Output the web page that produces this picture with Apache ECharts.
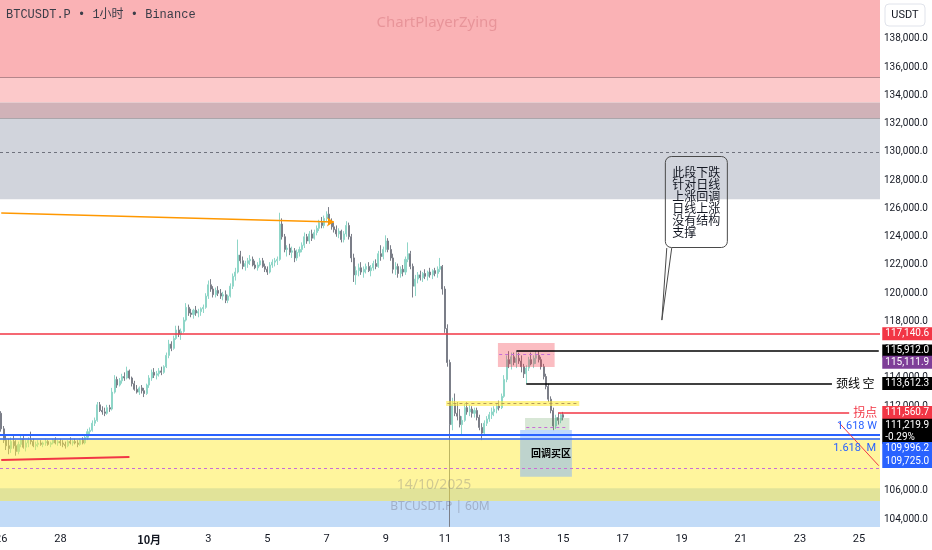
<!DOCTYPE html>
<html><head><meta charset="utf-8">
<script src="https://cdn.jsdelivr.net/npm/echarts@6/dist/echarts.min.js"></script>
<style>html,body{margin:0;padding:0;background:#fff}#c{width:932px;height:550px}</style>
</head><body><div id="c"></div>
<script>
// ---------- axis / categories (2-hour slots from 26 Sep 2025) ----------
const startDate = Date.UTC(2025, 8, 26);
const slotHours = 2;
const slotCount = 357;
const categories = [];
for (let i = 0; i < slotCount; i++) {
  const d = new Date(startDate + i * slotHours * 3600000);
  const p = n => String(n).padStart(2, '0');
  categories.push(p(d.getUTCMonth() + 1) + '-' + p(d.getUTCDate()) + ' ' + p(d.getUTCHours()) + ':00');
}
const lastCat = categories[categories.length - 1];
const xTickTimes = ['09-26 00:00','09-28 00:00','10-01 00:00','10-03 00:00','10-05 00:00','10-07 00:00','10-09 00:00','10-11 00:00','10-13 00:00','10-15 00:00','10-17 00:00','10-19 00:00','10-21 00:00','10-23 00:00','10-25 00:00'];
const xTickTexts = ['26','28','10月','3','5','7','9','11','13','15','17','19','21','23','25'];
const yMin = 103451, yMax = 140761;

// ---------- candles: [open, high, low, close] per 2h slot ----------
const ohlc = [
[111500,111650,110200,110400],[110400,110600,109400,109600],[109600,110000,108900,109200],[109200,109700,108600,109000],
[109000,109800,108700,109500],[109500,109900,109000,109200],[109200,109600,108500,108800],[108800,109500,108600,109300],
[109300,109900,109100,109700],[109700,109900,109000,109100],[109100,109600,108800,109400],[109400,109800,109100,109600],
[109600,110200,109300,109500],[109500,109700,109100,109200],[109200,109500,108900,109300],[109300,109600,109100,109400],
[109400,109600,109200,109300],[109300,109500,109100,109400],[109400,109700,109200,109500],[109500,109600,109200,109300],
[109300,109500,109100,109400],[109400,109700,109300,109600],[109600,109800,109300,109400],[109400,109600,109200,109500],
[109500,109700,109200,109400],[109400,109600,109100,109300],[109300,109500,109000,109200],[109200,109600,109100,109500],
[109500,109800,109300,109400],[109400,109600,109200,109500],[109500,109700,109300,109400],[109400,109600,109100,109300],
[109300,109700,109200,109600],[109600,109800,109300,109400],[109400,109900,109300,109800],[109800,110400,109600,110200],
[110200,110500,109900,110300],[110300,111000,110200,110800],[110800,111200,110600,111000],[111000,112300,110900,112100],
[112100,112300,111600,111700],[111700,112000,111400,111600],[111600,111900,111300,111500],[111500,112100,111400,111900],
[111900,112100,111600,111800],[111800,113300,111700,113000],[113000,114200,112900,113900],[113900,114100,113300,113500],
[113500,114000,113400,113800],[113800,114300,113600,114100],[114100,114400,113800,114000],[114000,114800,113900,114500],
[114500,114600,113900,114000],[114000,114100,113400,113600],[113600,113800,113100,113200],[113200,113500,112900,113000],
[113000,113400,112800,113300],[113300,113500,112900,113100],[113100,113300,112650,112900],[112900,113600,112800,113500],
[113500,114200,113300,114000],[114000,114600,113800,114400],[114400,114700,114000,114200],[114200,114500,113900,114300],
[114300,114700,114100,114500],[114500,114800,114200,114400],[114400,114900,114300,114800],[114800,115800,114700,115600],
[115600,116700,115400,116400],[116400,116600,115900,116100],[116100,117000,116000,116800],[116800,117700,116700,117400],
[117400,117700,116900,117100],[117100,117500,116700,117300],[117300,118300,117200,118100],[118100,119300,118000,119000],
[119000,119200,118400,118600],[118600,118900,118300,118500],[118500,118900,118200,118800],[118800,119100,118400,118600],
[118600,118900,118300,118700],[118700,119000,118400,118900],[118900,119200,118600,119000],[119000,120000,118900,119800],
[119800,120900,119600,120600],[120600,121000,120100,120300],[120300,120500,119700,119900],[119900,120400,119700,120200],
[120200,120500,119800,120000],[120000,120300,119600,119800],[119800,120100,119500,119900],[119900,120200,119300,119500],
[119500,119900,119300,119800],[119800,120700,119700,120500],[120500,121400,120300,121200],[121200,121800,120900,121500],
[121500,123800,121400,122700],[122700,123000,122100,122300],[122300,122600,121700,121900],[121900,122300,121600,122100],
[122100,122500,121800,122300],[122300,122700,122000,122400],[122400,122600,121900,122000],[122000,122300,121700,121800],
[121800,122200,121600,122000],[122000,122500,121900,122300],[122300,122500,121800,121900],[121900,122100,121500,121700],
[121700,121900,121300,121500],[121500,122200,121400,122000],[122000,122400,121800,122200],[122200,122500,121900,122300],
[122300,122600,122000,122400],[122400,125700,122300,124900],[124900,125300,123800,124000],[124000,124200,122900,123100],
[123100,123400,122600,123200],[123200,123500,122700,122900],[122900,123300,122500,123000],[123000,123200,122200,122500],
[122500,123100,122300,122900],[122900,123300,122600,123100],[123100,123600,122900,123400],[123400,124300,123200,124000],
[124000,124200,123500,123700],[123700,124400,123500,124200],[124200,124500,123700,123900],[123900,124500,123800,124300],
[124300,124800,124100,124600],[124600,125200,124400,125000],[125000,125400,124600,124800],[124800,125500,124600,125300],
[125300,125800,125100,125600],[125600,126100,124900,125100],[125100,125300,124500,124700],[124700,125000,124300,124500],
[124500,124800,124000,124200],[124200,124600,123900,124400],[124400,124500,123600,123800],[123800,124400,123600,124200],
[124200,125100,124000,124800],[124800,125000,123800,124000],[124000,124200,122200,122500],[122500,122800,120800,121300],
[121300,121900,120600,121600],[121600,122100,121200,121800],[121800,122200,121300,121500],[121500,121900,121100,121700],
[121700,122100,121400,121900],[121900,122200,121500,121600],[121600,122000,121200,121800],[121800,122300,121600,122100],
[122100,122400,121700,121900],[121900,123000,121800,122800],[122800,123400,122300,122600],[122600,123300,122400,123100],
[123100,124100,122900,123700],[123700,123900,122900,123100],[123100,123400,122300,122500],[122500,122800,121400,121700],
[121700,122200,121300,121900],[121900,122100,121100,121400],[121400,121900,121100,121700],[121700,122000,121200,121500],
[121500,122600,121300,122400],[122400,123600,122200,122800],[122800,123000,121700,121900],[121900,122100,119700,120500],
[120500,121300,119800,121000],[121000,121500,120700,121300],[121300,121600,120900,121100],[121100,121500,120800,121400],
[121400,121700,121000,121200],[121200,121600,120900,121500],[121500,121800,121100,121300],[121300,121700,121000,121600],
[121600,121800,121200,121400],[121400,121900,121100,121700],[121700,122500,121500,121900],[121900,122000,119900,120300],
[120300,120500,117200,117500],[117500,117800,114800,115100],[115100,115300,103460,110700],[110700,112600,110300,112100],
[112100,112900,111300,111500],[111500,112300,111000,111300],[111300,111800,110500,110700],[110700,111300,110000,111000],
[111000,112200,110900,111900],[111900,112300,111400,111600],[111600,112100,111300,111800],[111800,112000,111200,111500],
[111500,111900,111200,111700],[111700,111900,111000,111200],[111200,111400,110300,110500],[110500,110800,109600,110100],
[110100,111000,110000,110800],[110800,111300,110600,111100],[111100,111600,110900,111400],[111400,111900,111100,111600],
[111600,112000,111300,111800],[111800,112200,111500,112000],[112000,112400,111700,111900],[111900,112900,111800,112700],
[112700,114200,112600,113900],[113900,115600,113700,115300],[115300,115900,114700,115000],[115000,115800,114600,115500],
[115500,115800,114900,115100],[115100,115912,114700,115400],[115400,115800,115000,115200],[115200,115600,114400,114800],
[114800,115000,114000,114300],[114300,114900,113600,114700],[114700,115500,114500,115300],[115300,115800,114900,115000],
[115000,115600,114700,115400],[115400,115900,115000,115600],[115600,115900,115100,115300],[115300,115500,114600,114800],
[114800,115000,113900,114100],[114100,114300,113200,113400],[113400,113600,112300,112500],[112500,112700,111500,111700],
[111700,111900,110300,110600],[110600,111400,110400,111200],[111200,111560,110700,111000],[111000,111500,110800,111400],
[111400,111600,111000,111220]
];

// ---------- full-width price zones ----------
const bandNames = ['pinkTop','pinkLight','mauve','grayZone','blueZone'];
const bandLow   = [135300, 133500, 132400, 126650, 100000];
const bandHigh  = [145000, 135300, 133500, 132400, 106200];

// ---------- rectangles drawn over the candles ----------
const boxNames  = ['yellowZone','redBox','yellowStrip','greenBox','blueBox'];
const boxStartT = ['09-26 00:00','10-12 20:00','10-11 02:00','10-13 18:00','10-13 14:00'];
const boxEndT   = ['10-25 16:00','10-14 16:00','10-15 12:00','10-15 04:00','10-15 06:00'];
const boxLow    = [105300, 114780, 112020, 110320, 107000];
const boxHigh   = [109750, 116480, 112370, 111170, 110320];

// ---------- full-width horizontal levels ----------
const levelNames  = ['resistance','fibW','fibM','pinkDash','zoneEdgeTop','zoneEdge2','dash130k'];
const levelPrices = [117140.6, 109996.2, 109725.0, 107630, 135300, 132400, 130000];

// ---------- drawn segments ----------
const segNames  = ['orange','lowRed','black115','neck','turn','diag','dashRed','dashYellow','dashGreen','tailL','tailR'];
const segStartT = ['09-26 00:00','09-26 00:00','10-13 10:00','10-13 18:00','10-14 20:00','10-24 08:00','10-12 20:00','10-11 02:00','10-13 18:00','10-18 08:00','10-18 08:00'];
const segStartP = [125680, 108190, 115912.0, 113612.3, 111560.7, 110810, 115700, 112200, 110510, 118100, 118100];
const segEndT   = ['10-07 06:00','09-30 08:00','10-25 16:00','10-24 02:00','10-24 16:00','10-25 16:00','10-14 16:00','10-15 12:00','10-15 04:00','10-18 12:00','10-18 16:00'];
const segEndP   = [125040, 108400, 115912.0, 113612.3, 111560.7, 107790, 115700, 112200, 110510, 123200, 123200];

// ---------- price tags on the right scale ----------
const tagPrices = [117140.6, 115912.0, 115111.9, 113612.3, 111560.7, 111219.9, 109996.2, 109725.0];
const tagTexts  = ['117,140.6','115,912.0','115,111.9','113,612.3','111,560.7','111,219.9\n-0.29%','109,996.2','109,725.0'];

// ---------- text notes ----------
const noteTimes  = ['10-14 14:00','10-19 12:00'];
const notePrices = [108690, 126460];
const noteTexts  = ['回调买区','此段下跌\n针对日线\n上涨回调\n日线上涨\n没有结构\n支撑　　'];

// ================= styles =================
const FONT = 'Roboto, "Noto Sans", sans-serif';
const CJK = '"Noto Sans CJK SC", sans-serif';
const bandColors = { pinkTop:'#fab2b5', pinkLight:'#fcc9ca', mauve:'#d0b2b8', grayZone:'#d1d4dc', blueZone:'#c2dbf7' };
const boxColors = { yellowZone:'rgba(255,235,59,0.5)', redBox:'rgba(242,54,69,0.33)', yellowStrip:'rgba(255,235,59,0.6)',
  greenBox:'rgba(100,160,90,0.25)', blueBox:'rgba(125,177,253,0.5)' };
const levelStyle = {
  resistance: { line:{ color:'#f23645', width:1.5, type:'solid' } },
  fibW: { line:{ color:'#2962ff', width:2, type:'solid' },
    label:{ show:true, position:'insideEndTop', formatter:'1.618 W', color:'#2962ff', fontSize:11, fontFamily:FONT, distance:3 } },
  fibM: { line:{ color:'#2962ff', width:1.5, type:'solid' },
    label:{ show:true, position:'insideEndBottom', formatter:'1.618  M', color:'#2962ff', fontSize:11, fontFamily:FONT, distance:4 } },
  pinkDash: { line:{ color:'#c86dd7', width:1, type:[3,3] } },
  zoneEdgeTop: { line:{ color:'#b4868b', width:1.2, type:'solid' } },
  zoneEdge2: { line:{ color:'#aaa6ab', width:1, type:'solid' } },
  dash130k: { line:{ color:'#6f727d', width:1, type:[3,3] } }
};
const segStyle = {
  orange: { line:{ color:'#ff9800', width:1.5, type:'solid' }, arrow:true },
  lowRed: { line:{ color:'#f23645', width:2, type:'solid' } },
  black115: { line:{ color:'#000', width:1.5, type:'solid' } },
  neck: { line:{ color:'#000', width:1.5, type:'solid' },
    label:{ show:true, position:'end', formatter:'颈线 空', color:'#000', fontSize:12, fontFamily:CJK, distance:4 } },
  turn: { line:{ color:'#f23645', width:1.5, type:'solid' },
    label:{ show:true, position:'end', formatter:'拐点', color:'#f23645', fontSize:12, fontFamily:CJK, distance:4 } },
  diag: { line:{ color:'#f23645', width:1, type:'solid' } },
  dashRed: { line:{ color:'#c86dd7', width:1, type:[3,3] } },
  dashYellow: { line:{ color:'#b59a5a', width:1, type:[3,3] } },
  dashGreen: { line:{ color:'#c86dd7', width:1, type:[3,3] } },
  tailL: { line:{ color:'#4a4a4a', width:1, type:'solid' } },
  tailR: { line:{ color:'#4a4a4a', width:1, type:'solid' } }
};
const tagStyle = [
  { bg:'#f23645', dy:0 }, { bg:'#000000', dy:0 }, { bg:'#7e3e98', dy:0 }, { bg:'#000000', dy:0 },
  { bg:'#f23645', dy:0 }, { bg:'#000000', dy:14 }, { bg:'#2962ff', dy:14 }, { bg:'#2962ff', dy:23 }
];

// ================= build =================
const idx = t => categories.indexOf(t);
const candleData = ohlc.map(r => [r[0], r[3], r[2], r[1]]);

function rectItem(params, api, color) {
  const cs = params.coordSys;
  const bw = api.size([1, 0])[0];
  const p1 = api.coord([api.value(0), api.value(3)]);
  const p2 = api.coord([api.value(1), api.value(2)]);
  const x1 = Math.max(p1[0] - bw / 2, cs.x), x2 = Math.min(p2[0] + bw / 2, cs.x + cs.width);
  const y1 = Math.max(p1[1], cs.y), y2 = Math.min(p2[1], cs.y + cs.height);
  return { type:'rect', shape:{ x:x1, y:y1, width:x2 - x1, height:y2 - y1 }, style:{ fill:color } };
}
const bandData = bandNames.map((n, i) => [0, slotCount - 1, bandLow[i], bandHigh[i]]);
const boxData = boxNames.map((n, i) => [idx(boxStartT[i]), idx(boxEndT[i]), boxLow[i], boxHigh[i]]);

const mlData = [];
levelNames.forEach((n, i) => {
  const st = levelStyle[n];
  mlData.push({ yAxis: levelPrices[i], lineStyle: st.line, label: st.label || { show:false } });
});
segNames.forEach((n, i) => {
  const st = segStyle[n];
  mlData.push([
    { coord:[segStartT[i], segStartP[i]], symbol:'none', lineStyle: st.line, label: st.label || { show:false } },
    { coord:[segEndT[i], segEndP[i]], symbol: st.arrow ? 'arrow' : 'none', symbolSize: 7 }
  ]);
});

const mpData = [];
tagPrices.forEach((p, i) => {
  mpData.push({
    coord:[lastCat, p], symbol:'circle', symbolSize:1, itemStyle:{ color:'rgba(0,0,0,0)' },
    label:{ show:true, position:'right', distance:3, offset:[0, tagStyle[i].dy], formatter: tagTexts[i],
      backgroundColor: tagStyle[i].bg, color:'#fff', fontSize:10, lineHeight:12, fontFamily:FONT, padding:[1,3,0,3] }
  });
});
mpData.push({
  coord:[noteTimes[0], notePrices[0]], symbol:'circle', symbolSize:1, itemStyle:{ color:'rgba(0,0,0,0)' },
  label:{ show:true, position:'inside', formatter: noteTexts[0], color:'#000', fontSize:10, fontWeight:'bold', fontFamily:CJK }
});
mpData.push({
  coord:[noteTimes[1], notePrices[1]], symbol:'circle', symbolSize:1, itemStyle:{ color:'rgba(0,0,0,0)' },
  label:{ show:true, position:'inside', formatter: noteTexts[1], color:'#131722', fontSize:12, lineHeight:12, fontFamily:CJK,
    borderColor:'#4a4a4a', borderWidth:1, borderRadius:6, padding:[8,7,11,7] }
});

const fmtPrice = v => {
  const s = Math.round(v).toString().replace(/\B(?=(\d{3})+(?!\d))/g, ',');
  return s + '.0';
};

const chart = echarts.init(document.getElementById('c'), null, { renderer:'canvas' });
chart.setOption({
  animation:false,
  backgroundColor:'#ffffff',
  grid:{ left:0, right:52, top:0, bottom:23, containLabel:false, outerBoundsMode:'none' },
  xAxis:{
    type:'category', data:categories, boundaryGap:true,
    axisLine:{ show:false }, axisTick:{ show:false }, splitLine:{ show:false },
    axisLabel:{
      interval:(i, v) => xTickTimes.indexOf(v) >= 0,
      formatter:v => { const k = xTickTimes.indexOf(v); const t = xTickTexts[k]; return t === '10月' ? '{b|' + t + '}' : t; },
      color:'#131722', fontSize:11, fontFamily:FONT, margin:7,
      rich:{ b:{ fontWeight:'bold', fontSize:11, color:'#131722', fontFamily:CJK } }
    }
  },
  yAxis:{
    type:'value', position:'right', min:yMin, max:yMax, splitNumber:18, scale:true,
    axisLine:{ show:false }, axisTick:{ show:false }, splitLine:{ show:false },
    axisLabel:{ showMinLabel:false, showMaxLabel:false, color:'#131722', fontSize:10, fontFamily:FONT, margin:4,
      formatter:v => (v % 2000 === 0 && v <= 138000 ? fmtPrice(v) : '') }
  },
  graphic:[
    { type:'text', left:6, top:9, z:100, style:{ text:'BTCUSDT.P • 1小时 • Binance', font:'12px "Liberation Mono", "Noto Sans CJK SC"', fill:'#3a3d48' } },
    { type:'text', x:437, y:23, z:4, style:{ text:'ChartPlayerZying', font:'15px "Noto Sans"', fill:'rgba(180,60,70,0.25)', align:'center', verticalAlign:'middle' } },
    { type:'text', x:434, y:485, z:4, style:{ text:'14/10/2025', font:'14px "Noto Sans"', fill:'rgba(110,110,120,0.32)', align:'center', verticalAlign:'middle' } },
    { type:'text', x:440, y:507, z:4, style:{ text:'BTCUSDT.P | 60M', font:'12px "Noto Sans"', fill:'rgba(110,110,130,0.4)', align:'center', verticalAlign:'middle' } },
    { type:'rect', x:885, y:4, z:100, shape:{ x:0, y:0, width:40, height:22, r:4 }, style:{ fill:'#fff', stroke:'#e0e3eb', lineWidth:1 } },
    { type:'text', x:905, y:15, z:101, style:{ text:'USDT', font:'11px Roboto', fill:'#131722', align:'center', verticalAlign:'middle' } }
  ],
  series:[
    { type:'custom', name:'zones', z:1, silent:true, data:bandData, encode:{ x:[0,1], y:[2,3] },
      renderItem:(params, api) => rectItem(params, api, bandColors[bandNames[params.dataIndex]]) },
    { type:'candlestick', name:'BTCUSDT.P', z:2, data:candleData, barWidth:'62%', clip:true,
      itemStyle:{ color:'#8fd6c8', color0:'#7b7e88', borderColor:'#8fd6c8', borderColor0:'#7b7e88', borderWidth:1 } },
    { type:'custom', name:'boxes', z:3, silent:true, data:boxData, encode:{ x:[0,1], y:[2,3] },
      renderItem:(params, api) => rectItem(params, api, boxColors[boxNames[params.dataIndex]]) },
    { type:'line', name:'drawings', z:4, data:[], clip:false, silent:true,
      markLine:{ silent:true, symbol:['none','none'], label:{ show:false }, lineStyle:{ type:'solid' }, data:mlData },
      markPoint:{ silent:true, data:mpData } }
  ]
});
</script></body></html>
